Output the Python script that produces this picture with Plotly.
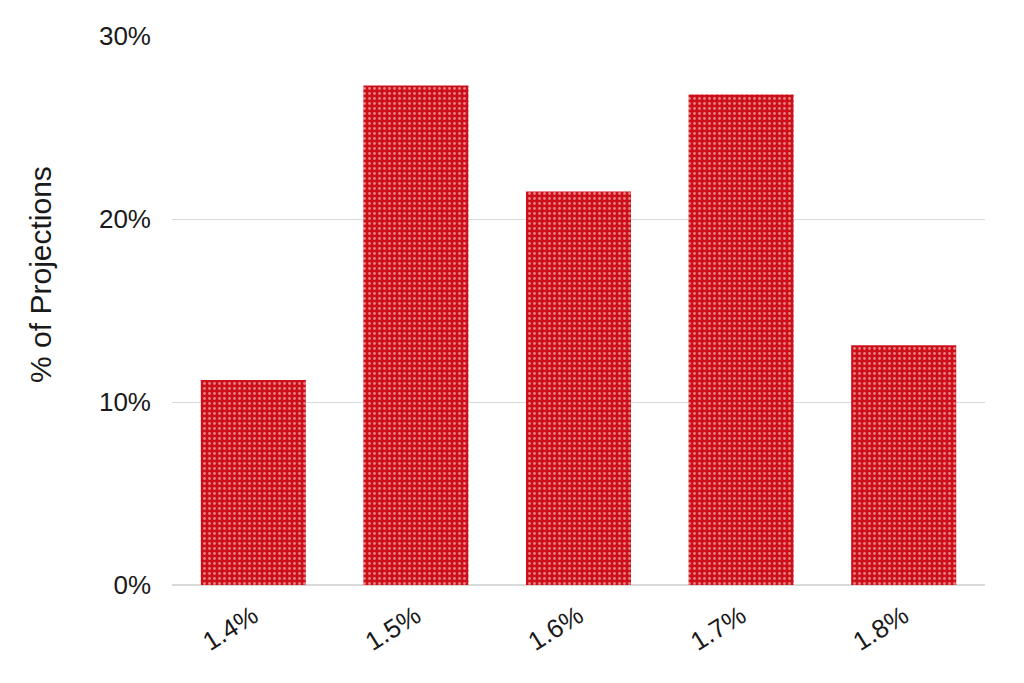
import plotly.graph_objects as go

categories = ["1.4%", "1.5%", "1.6%", "1.7%", "1.8%"]
values = [11.2, 27.3, 21.5, 26.8, 13.1]
y_ticks = [0, 10, 20, 30]
y_tick_labels = ["0%", "10%", "20%", "30%"]
y_title = "% of Projections"

fig = go.Figure(go.Bar(
    x=categories, y=values,
    marker=dict(
        color="#cc0f19",
        line=dict(width=0),
        pattern=dict(shape=".", fgcolor="#ffeeee", bgcolor="#cc0f19", size=5, solidity=0.25),
    ),
))
fig.update_layout(
    width=1024, height=683,
    margin=dict(l=164, r=47, t=28, b=106),
    paper_bgcolor="white", plot_bgcolor="white",
    bargap=0.354,
    showlegend=False,
    font=dict(family="Liberation Sans, Arial, sans-serif", color="#1a1a1a"),
    xaxis=dict(tickangle=-32, tickfont=dict(size=26), showgrid=False, showline=False, ticks="",
               ticklabelstandoff=10),
    yaxis=dict(range=[0, 30], tickvals=y_ticks, ticktext=y_tick_labels, tickfont=dict(size=26),
               gridcolor="#d9d9d9", gridwidth=1, zeroline=True, zerolinecolor="#d9d9d9",
               ticks="", ticklen=0, ticklabelstandoff=20),
    annotations=[dict(text=y_title, textangle=-90, xref="paper", yref="paper",
                      x=-0.161, y=0.565, xanchor="center", yanchor="middle",
                      showarrow=False, font=dict(size=30, color="#1a1a1a"))],
)
fig.write_html("out.html")
